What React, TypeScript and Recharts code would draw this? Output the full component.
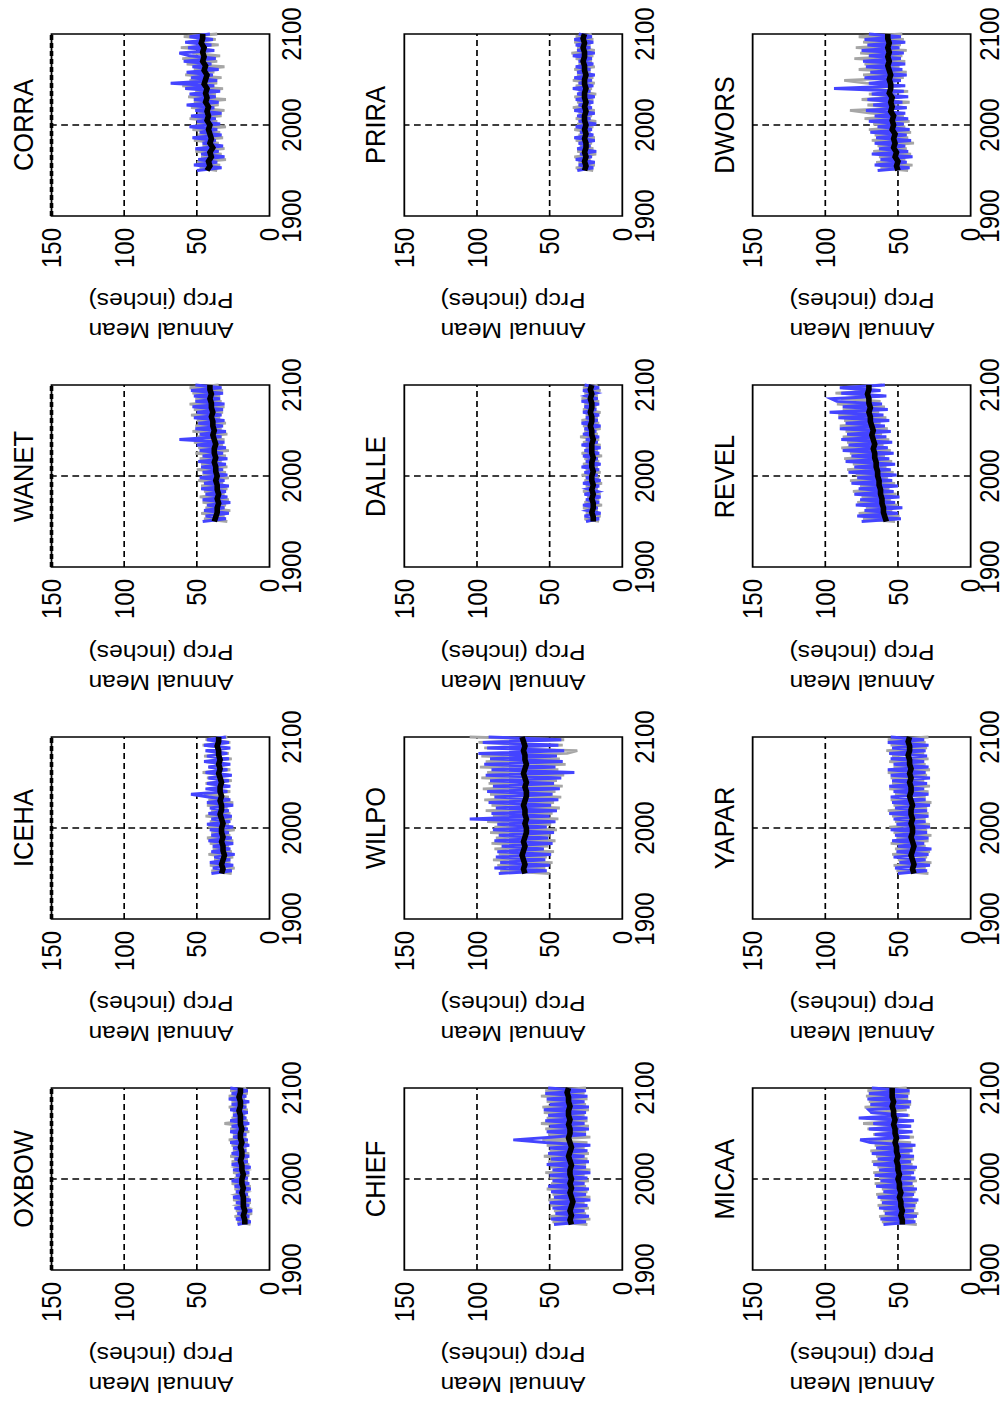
import { LineChart, Line, XAxis, YAxis, ReferenceLine, ReferenceArea } from 'recharts';

// years for the two kinds of series
const runYears = [
  1950, 1953, 1956, 1959, 1962, 1965, 1968, 1971, 1974, 1977,
  1980, 1983, 1986, 1989, 1992, 1995, 1998, 2001, 2004, 2007,
  2010, 2013, 2016, 2019, 2022, 2025, 2028, 2031, 2034, 2037,
  2040, 2043, 2046, 2049, 2052, 2055, 2058, 2061, 2064, 2067,
  2070, 2073, 2076, 2079, 2082, 2085, 2088, 2091, 2094, 2097,
  2100,
];
const meanYears = [
  1950, 1955, 1960, 1965, 1970, 1975, 1980, 1985, 1990, 1995,
  2000, 2005, 2010, 2015, 2020, 2025, 2030, 2035, 2040, 2045,
  2050, 2055, 2060, 2065, 2070, 2075, 2080, 2085, 2090, 2095,
  2100,
];

const yearTicks = [1900, 2000, 2100];
const prcpTicks = [0, 50, 100, 150];

// OXBOW
const oxbowMean = [17, 17, 18, 17, 18, 18, 18, 19, 18, 19, 19, 18, 19, 19, 20, 19, 19, 20, 19, 20, 20, 19, 20, 20, 20, 21, 20, 20, 21, 20, 20];
const oxbowBlue = [22, 13, 23, 14, 22, 12, 24, 14, 23, 13, 25, 15, 23, 13, 24, 14, 26, 15, 23, 14, 25, 13, 26, 15, 24, 14, 26, 16, 25, 14, 27, 15, 25, 16, 27, 15, 26, 14, 27, 16, 25, 15, 27, 16, 26, 14, 28, 16, 26, 15, 27];
const oxbowGray = [13, 22, 14, 24, 12, 23, 15, 22, 13, 25, 14, 23, 16, 24, 13, 26, 15, 24, 14, 25, 16, 23, 14, 26, 15, 27, 14, 25, 16, 26, 15, 28, 16, 25, 14, 27, 16, 31, 15, 26, 17, 25, 15, 28, 16, 26, 17, 28, 15, 27, 16];

// ICEHA
const icehaMean = [33, 32, 33, 32, 31, 32, 32, 33, 32, 33, 33, 32, 33, 34, 33, 33, 34, 33, 34, 34, 33, 34, 35, 34, 35, 34, 35, 35, 36, 35, 35];
const icehaBlue = [40, 26, 39, 25, 41, 27, 38, 24, 40, 27, 39, 25, 42, 26, 40, 28, 41, 25, 43, 27, 40, 26, 42, 28, 41, 25, 43, 27, 42, 54, 29, 44, 27, 43, 28, 42, 26, 44, 29, 42, 27, 45, 28, 43, 29, 44, 27, 45, 28, 43, 30];
const icehaGray = [26, 40, 24, 41, 27, 38, 25, 42, 26, 39, 28, 41, 25, 43, 27, 40, 24, 42, 28, 41, 26, 44, 27, 40, 29, 43, 25, 42, 28, 45, 27, 41, 29, 44, 26, 43, 28, 46, 27, 42, 29, 44, 26, 45, 28, 43, 30, 46, 27, 44, 29];

// WANET
const wanetMean = [38, 37, 36, 36, 35, 36, 35, 36, 36, 37, 36, 37, 37, 38, 37, 38, 38, 37, 38, 39, 38, 39, 39, 40, 39, 40, 40, 41, 40, 41, 41];
const wanetBlue = [46, 30, 44, 28, 45, 31, 43, 27, 46, 29, 44, 30, 47, 28, 45, 31, 48, 29, 46, 32, 47, 30, 49, 29, 46, 32, 48, 30, 50, 31, 62, 33, 48, 30, 51, 32, 49, 31, 52, 33, 50, 32, 53, 31, 51, 34, 52, 32, 54, 33, 51];
const wanetGray = [29, 45, 31, 47, 27, 44, 30, 46, 28, 48, 31, 45, 29, 47, 32, 49, 28, 46, 30, 50, 29, 47, 33, 48, 30, 51, 28, 49, 32, 52, 31, 50, 29, 53, 33, 51, 30, 50, 34, 54, 32, 52, 31, 55, 33, 51, 34, 53, 32, 55, 35];

// CORRA
const corraMean = [43, 41, 42, 40, 41, 39, 41, 40, 41, 42, 41, 43, 42, 43, 42, 44, 43, 44, 43, 45, 44, 43, 45, 44, 46, 45, 46, 45, 47, 46, 46];
const corraBlue = [50, 33, 52, 36, 49, 31, 47, 35, 51, 32, 46, 37, 53, 33, 48, 36, 55, 34, 50, 37, 54, 33, 51, 38, 57, 35, 52, 37, 55, 34, 58, 38, 68, 36, 54, 39, 57, 35, 53, 40, 59, 37, 55, 62, 38, 56, 40, 58, 39, 55, 41];
const corraGray = [36, 48, 34, 50, 30, 47, 33, 51, 31, 46, 35, 52, 32, 49, 34, 53, 30, 50, 36, 55, 33, 49, 31, 54, 35, 52, 30, 56, 37, 51, 32, 60, 36, 55, 33, 58, 38, 52, 31, 57, 36, 60, 34, 53, 39, 61, 35, 56, 37, 59, 36];

// CHIEF
const chiefMean = [35, 36, 35, 36, 35, 34, 35, 36, 35, 36, 35, 36, 36, 35, 36, 37, 36, 35, 36, 37, 36, 36, 37, 36, 37, 37, 36, 37, 37, 38, 37];
const chiefBlue = [47, 25, 49, 23, 46, 26, 48, 24, 50, 22, 47, 25, 49, 23, 51, 26, 48, 24, 50, 22, 48, 25, 52, 23, 49, 26, 51, 24, 50, 22, 53, 75, 49, 25, 52, 23, 50, 26, 53, 24, 51, 25, 54, 23, 50, 26, 52, 24, 53, 25, 51];
const chiefGray = [24, 48, 22, 50, 25, 47, 23, 49, 26, 51, 22, 48, 24, 52, 25, 49, 23, 50, 26, 53, 22, 49, 25, 51, 24, 54, 23, 50, 26, 52, 24, 55, 22, 51, 25, 53, 23, 56, 24, 52, 26, 54, 23, 55, 25, 52, 24, 56, 26, 53, 25];

// WILPO
const wilpoMean = [67, 68, 67, 68, 69, 68, 67, 68, 67, 66, 66, 67, 66, 67, 67, 68, 67, 66, 66, 67, 66, 67, 68, 67, 66, 67, 67, 68, 67, 68, 69];
const wilpoBlue = [85, 52, 88, 50, 84, 53, 87, 49, 86, 54, 83, 48, 88, 51, 85, 47, 89, 52, 86, 46, 105, 50, 90, 45, 87, 49, 92, 44, 88, 48, 93, 43, 89, 47, 91, 42, 94, 33, 90, 46, 95, 41, 91, 45, 99, 40, 93, 44, 96, 42, 92];
const wilpoGray = [50, 84, 53, 86, 48, 89, 52, 85, 47, 88, 51, 90, 46, 87, 50, 91, 45, 88, 49, 93, 44, 89, 48, 94, 43, 90, 47, 95, 42, 91, 46, 96, 41, 92, 45, 97, 40, 93, 44, 98, 39, 94, 43, 97, 38, 31, 95, 41, 99, 40, 105];

// DALLE
const dalleMean = [20, 20, 21, 20, 20, 21, 20, 21, 20, 21, 21, 20, 21, 21, 20, 21, 21, 21, 20, 21, 21, 22, 21, 21, 22, 21, 21, 22, 21, 22, 21];
const dalleBlue = [25, 16, 26, 15, 24, 17, 27, 16, 25, 15, 26, 17, 24, 16, 27, 15, 25, 17, 26, 16, 28, 15, 25, 17, 27, 16, 26, 15, 28, 17, 25, 16, 27, 18, 26, 15, 28, 17, 25, 16, 27, 18, 26, 16, 28, 17, 25, 18, 27, 16, 26];
const dalleGray = [16, 26, 15, 25, 17, 27, 14, 26, 16, 24, 15, 27, 17, 25, 14, 26, 16, 28, 15, 25, 17, 27, 16, 26, 14, 28, 17, 25, 15, 27, 16, 29, 17, 26, 15, 27, 16, 28, 17, 25, 15, 27, 18, 26, 16, 28, 17, 26, 15, 27, 17];

// PRIRA
const priraMean = [26, 25, 26, 25, 26, 25, 25, 26, 25, 26, 25, 26, 26, 25, 26, 25, 26, 26, 25, 26, 26, 25, 26, 26, 27, 26, 26, 27, 26, 27, 26];
const priraBlue = [31, 20, 30, 19, 32, 21, 29, 18, 31, 22, 30, 19, 33, 20, 29, 21, 32, 18, 30, 22, 31, 19, 33, 21, 30, 20, 32, 19, 31, 22, 34, 20, 30, 21, 33, 19, 31, 22, 32, 20, 30, 21, 34, 19, 31, 22, 32, 20, 33, 21, 30];
const priraGray = [20, 32, 19, 30, 22, 33, 18, 31, 20, 29, 21, 32, 19, 30, 22, 33, 20, 31, 18, 32, 21, 30, 19, 34, 22, 31, 20, 33, 18, 30, 21, 32, 19, 34, 20, 31, 22, 33, 19, 30, 21, 32, 20, 35, 19, 31, 22, 33, 20, 32, 21];

// MICAA
const micaaMean = [47, 47, 48, 47, 48, 48, 49, 48, 49, 49, 50, 49, 50, 50, 51, 50, 51, 51, 52, 51, 52, 52, 53, 52, 53, 53, 54, 53, 54, 54, 54];
const micaaBlue = [60, 38, 62, 37, 59, 39, 63, 38, 61, 36, 64, 39, 60, 37, 65, 40, 62, 38, 66, 39, 63, 37, 67, 41, 64, 39, 68, 40, 65, 38, 69, 76, 42, 66, 40, 70, 41, 67, 39, 77, 43, 68, 70, 42, 69, 41, 71, 43, 70, 42, 68];
const micaaGray = [37, 61, 39, 63, 36, 60, 38, 64, 37, 62, 40, 65, 38, 61, 39, 66, 37, 63, 41, 67, 38, 64, 40, 68, 39, 65, 42, 69, 40, 66, 41, 70, 39, 67, 43, 71, 41, 74, 40, 72, 42, 69, 44, 73, 41, 70, 43, 72, 42, 71, 44];

// YAPAR
const yaparMean = [39, 40, 39, 40, 41, 40, 39, 40, 41, 40, 40, 41, 40, 41, 41, 40, 41, 42, 41, 41, 42, 41, 42, 41, 42, 42, 43, 42, 42, 43, 42];
const yaparBlue = [50, 30, 52, 28, 49, 31, 53, 29, 51, 27, 50, 32, 54, 29, 52, 30, 55, 28, 51, 31, 53, 29, 56, 30, 52, 28, 54, 31, 55, 29, 53, 32, 56, 30, 54, 28, 55, 31, 57, 29, 53, 32, 55, 30, 56, 31, 54, 29, 57, 32, 55];
const yaparGray = [29, 51, 31, 53, 27, 50, 30, 54, 28, 52, 31, 55, 29, 51, 27, 53, 30, 56, 28, 52, 31, 54, 29, 57, 30, 53, 27, 55, 31, 52, 29, 56, 28, 54, 32, 55, 30, 57, 28, 53, 31, 56, 29, 54, 32, 58, 30, 55, 31, 57, 29];

// REVEL
const revelMean = [58, 59, 60, 60, 61, 61, 62, 62, 63, 63, 64, 64, 65, 65, 66, 66, 67, 66, 67, 68, 67, 68, 69, 69, 70, 69, 70, 70, 71, 70, 70];
const revelBlue = [75, 48, 78, 50, 73, 47, 79, 52, 76, 49, 80, 53, 77, 50, 82, 54, 78, 51, 84, 55, 80, 52, 86, 56, 82, 53, 88, 57, 84, 54, 89, 58, 85, 55, 90, 59, 86, 56, 91, 60, 97, 57, 88, 61, 92, 96, 58, 89, 62, 90, 59];
const revelGray = [52, 74, 49, 77, 54, 72, 50, 78, 55, 75, 51, 81, 56, 76, 52, 83, 57, 79, 53, 85, 58, 81, 54, 87, 59, 83, 55, 89, 60, 85, 56, 88, 61, 86, 57, 90, 62, 87, 58, 91, 63, 88, 59, 92, 62, 89, 60, 93, 63, 88, 61];

// DWORS
const dworsMean = [50, 51, 50, 52, 51, 53, 52, 53, 52, 54, 53, 54, 53, 55, 54, 55, 54, 56, 55, 55, 56, 55, 56, 57, 56, 57, 56, 57, 56, 57, 57];
const dworsBlue = [64, 42, 66, 44, 62, 40, 68, 43, 63, 45, 66, 41, 65, 44, 69, 42, 64, 46, 70, 43, 66, 45, 72, 44, 67, 47, 71, 43, 68, 46, 94, 45, 70, 48, 73, 44, 69, 47, 72, 45, 74, 48, 70, 46, 75, 49, 71, 45, 73, 48, 70];
const dworsGray = [43, 62, 40, 65, 45, 63, 41, 67, 44, 64, 39, 68, 43, 66, 41, 70, 45, 67, 42, 73, 46, 69, 83, 44, 71, 42, 75, 47, 70, 43, 78, 48, 72, 87, 46, 74, 44, 77, 49, 73, 45, 80, 47, 76, 44, 79, 48, 74, 46, 77, 47];

// figure is laid out 3 rows x 4 columns, then turned on its side
const stations = [
  { name: 'OXBOW', mean: oxbowMean, blue: oxbowBlue, gray: oxbowGray },
  { name: 'ICEHA', mean: icehaMean, blue: icehaBlue, gray: icehaGray },
  { name: 'WANET', mean: wanetMean, blue: wanetBlue, gray: wanetGray },
  { name: 'CORRA', mean: corraMean, blue: corraBlue, gray: corraGray },
  { name: 'CHIEF', mean: chiefMean, blue: chiefBlue, gray: chiefGray },
  { name: 'WILPO', mean: wilpoMean, blue: wilpoBlue, gray: wilpoGray },
  { name: 'DALLE', mean: dalleMean, blue: dalleBlue, gray: dalleGray },
  { name: 'PRIRA', mean: priraMean, blue: priraBlue, gray: priraGray },
  { name: 'MICAA', mean: micaaMean, blue: micaaBlue, gray: micaaGray },
  { name: 'YAPAR', mean: yaparMean, blue: yaparBlue, gray: yaparGray },
  { name: 'REVEL', mean: revelMean, blue: revelBlue, gray: revelGray },
  { name: 'DWORS', mean: dworsMean, blue: dworsBlue, gray: dworsGray },
];

const K = 1.12; // vertical stretch of the figure
const FONT = '"Liberation Sans", Arial, Helvetica, sans-serif';
const PLOT_X = [133, 484, 835.5, 1187];
const PLOT_Y = [52 / K, 404 / K, 753 / K];
const PLOT_W = 182;
const PLOT_H = 218 / K;
const Y_AXIS_W = 70;
const X_AXIS_H = [44, 44, 30];
const M_TOP = 22;
const M_RIGHT = 34;
const X_TICK_GAP = [11.5, 11.5, 8.5];

const tickStyle = { fill: '#000', fontSize: 24, fontFamily: FONT };
const dash = { stroke: '#000', strokeDasharray: '6 4', strokeWidth: 1.5 };

type Station = { name: string; mean: number[]; blue: number[]; gray: number[] };

function Panel({ s, row, col }: { s: Station; row: number; col: number }) {
  const runs = runYears.map((year, i) => ({ year, blue: s.blue[i], gray: s.gray[i] }));
  const means = meanYears.map((year, i) => ({ year, mean: s.mean[i] }));
  return (
    <div style={{ position: 'absolute', left: PLOT_X[col] - Y_AXIS_W, top: PLOT_Y[row] - M_TOP }}>
      <LineChart
        width={Y_AXIS_W + PLOT_W + M_RIGHT}
        height={M_TOP + PLOT_H + X_AXIS_H[row]}
        margin={{ top: M_TOP, right: M_RIGHT, left: 0, bottom: 0 }}
      >
        <XAxis
          type="number"
          dataKey="year"
          domain={[1900, 2100]}
          ticks={yearTicks}
          interval={0}
          height={X_AXIS_H[row]}
          tickSize={0}
          tickMargin={X_TICK_GAP[row]}
          tickLine={false}
          axisLine={false}
          tick={tickStyle}
        />
        <YAxis
          type="number"
          domain={[0, 150]}
          ticks={prcpTicks}
          interval={0}
          width={Y_AXIS_W}
          tickSize={0}
          tickMargin={12}
          tickLine={false}
          axisLine={false}
          tick={tickStyle}
        />
        <ReferenceLine y={50} {...dash} />
        <ReferenceLine y={100} {...dash} />
        <ReferenceLine x={2000} {...dash} />
        {row === 0 && <ReferenceLine y={150} stroke="#000" strokeDasharray="5 3" strokeWidth={3.2} />}
        <Line data={runs} dataKey="gray" stroke="#a6a6a6" strokeWidth={2.8} dot={false} isAnimationActive={false} />
        <Line data={runs} dataKey="blue" stroke="#4444ff" strokeWidth={3} dot={false} isAnimationActive={false} />
        <Line data={means} dataKey="mean" stroke="#000" strokeWidth={5} dot={false} isAnimationActive={false} />
        <ReferenceArea x1={1900} x2={2100} y1={0} y2={150} fill="none" stroke="#000" strokeWidth={1.6} />
      </LineChart>
    </div>
  );
}

export default function App() {
  return (
    <div style={{ position: 'absolute', left: 0, top: 0, width: 1004, height: 1403, overflow: 'hidden', background: '#fff' }}>
      <div
        style={{
          position: 'absolute',
          left: 0,
          top: 0,
          width: 1403,
          height: 1004 / K,
          transformOrigin: '0 0',
          transform: `translateY(1403px) rotate(-90deg) scaleY(${K})`,
          fontFamily: FONT,
        }}
      >
        {stations.map((s, i) => (
          <Panel key={s.name} s={s} row={Math.floor(i / 4)} col={i % 4} />
        ))}
        <svg width={1403} height={1004 / K} style={{ position: 'absolute', left: 0, top: 0, pointerEvents: 'none' }}>
          {stations.map((s, i) => {
            const x0 = PLOT_X[i % 4];
            const y0 = PLOT_Y[Math.floor(i / 4)];
            const cy = y0 + PLOT_H / 2;
            return (
              <g key={s.name} fontFamily={FONT} fill="#000">
                <text x={x0 + PLOT_W / 2} y={y0 - 17} fontSize={25.5} textAnchor="middle">{s.name}</text>
                <text x={x0 - 107} y={cy} fontSize={22} textAnchor="middle" transform={`rotate(-90 ${x0 - 107} ${cy})`}>Annual Mean</text>
                <text x={x0 - 77} y={cy} fontSize={22} textAnchor="middle" transform={`rotate(-90 ${x0 - 77} ${cy})`}>Prcp (inches)</text>
              </g>
            );
          })}
        </svg>
      </div>
    </div>
  );
}
